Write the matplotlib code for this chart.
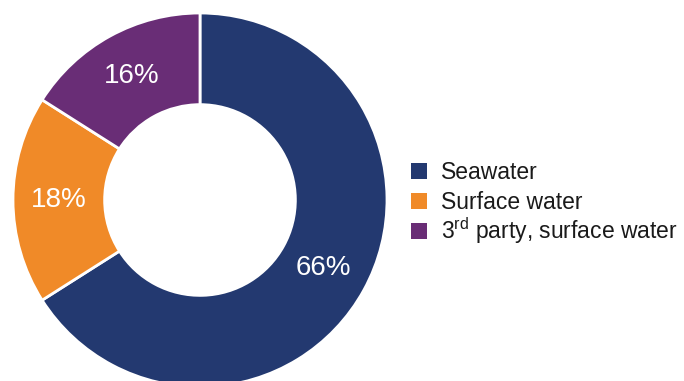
import matplotlib
matplotlib.use("Agg")
import matplotlib.pyplot as plt
from matplotlib.patches import Rectangle

plt.rcParams['font.family'] = ['Liberation Sans', 'DejaVu Sans']
plt.rcParams['mathtext.fontset'] = 'custom'
plt.rcParams['mathtext.rm'] = 'Liberation Sans'

# water withdrawal by source
sources = ['Seawater', 'Surface water', '3$^{\\rm rd}$ party, surface water']
shares = [66, 18, 16]
colors = ['#233970', '#F08A28', '#692D76']

fig = plt.figure(figsize=(6.84, 3.81), dpi=100)
W, H = 684, 381
ax = fig.add_axes([13 / W, (H - 200 - 187) / H, 374 / W, 374 / H])

wedges, texts, autotexts = ax.pie(
    shares, colors=colors, startangle=90, counterclock=False,
    radius=1.0, autopct='%d%%', pctdistance=0.755,
    wedgeprops=dict(width=0.49, edgecolor='white', linewidth=2),
    textprops=dict(color='white', fontsize=20))
ax.set_xlim(-1, 1)
ax.set_ylim(-1, 1)
ax.set_aspect('equal')

# legend drawn by hand so the superscript row keeps even spacing
fs = 16.5
row_y = [171, 201, 231]
box = 16
for name, c, y in zip(sources, colors, row_y):
    fig.patches.append(Rectangle(((411) / W, (H - y - box / 2) / H), box / W, box / H,
                                 transform=fig.transFigure, facecolor=c,
                                 edgecolor='none'))
    fig.text(441 / W, (H - y - 8.2) / H, name, fontsize=fs, color='#1a1a1a',
             ha='left', va='baseline')

fig.savefig('out.png', dpi=100)
